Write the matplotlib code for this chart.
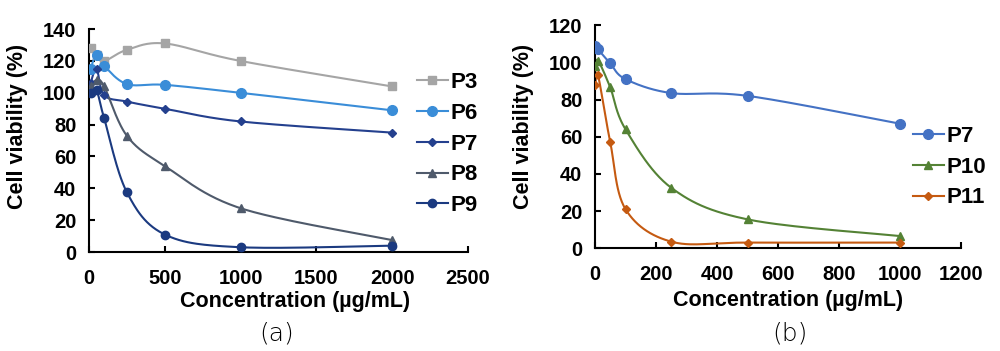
import numpy as np
import matplotlib
matplotlib.use("Agg")
import matplotlib.pyplot as plt

plt.rcParams['font.family'] = ['Liberation Sans', 'DejaVu Sans']

# ---- data ----
conc_a = [10, 50, 100, 250, 500, 1000, 2000]
p3_a = [128, 124, 120, 127, 131, 120, 104]
p6_a = [115, 124, 117, 105.5, 105, 100, 89]
p7_a = [106, 115, 98.5, 94.5, 90, 82, 75]
p8_a = [104, 108, 104, 73, 54, 27.5, 7.5]
p9_a = [100, 101.5, 84, 37.5, 11, 3, 4]

conc_b = [1, 10, 50, 100, 250, 500, 1000]
p7_b = [109, 107, 99.5, 91, 83.5, 82, 67]
p10_b = [98, 101, 86.5, 64, 32.5, 15.5, 6.5]
p11_b = [88, 93, 57, 21, 3.5, 3, 3]

xticks_a = [0, 500, 1000, 1500, 2000, 2500]
yticks_a = [0, 20, 40, 60, 80, 100, 120, 140]
xticks_b = [0, 200, 400, 600, 800, 1000, 1200]
yticks_b = [0, 20, 40, 60, 80, 100, 120]


def smooth(ax, x, y, n=30):
    # Excel-style smoothed line: Catmull-Rom Bezier computed in screen space
    pts = ax.transData.transform(np.column_stack([x, y]))
    p = np.vstack([pts[0], pts, pts[-1]])
    out = []
    t = np.linspace(0, 1, n)[:, None]
    for i in range(1, len(p) - 2):
        p0, p1 = p[i], p[i + 1]
        c1 = p0 + (p[i + 1] - p[i - 1]) / 6
        c2 = p1 - (p[i + 2] - p[i]) / 6
        seg = ((1 - t) ** 3) * p0 + 3 * ((1 - t) ** 2) * t * c1 + 3 * (1 - t) * t ** 2 * c2 + t ** 3 * p1
        out.append(seg)
    out = np.vstack(out)
    return ax.transData.inverted().transform(out)


def style_axes(ax, xt, yt, xmax, ymax):
    ax.set_xlim(0, xmax)
    ax.set_ylim(0, ymax)
    ax.set_xticks(xt)
    ax.set_yticks(yt)
    for s in ['top', 'right']:
        ax.spines[s].set_visible(False)
    for s in ['left', 'bottom']:
        ax.spines[s].set_linewidth(1.5)
    ax.tick_params(direction='in', length=4, width=1.5, labelsize=14.5)
    ax.tick_params(axis='y', pad=9)
    ax.tick_params(axis='x', pad=12)
    for lab in ax.get_xticklabels() + ax.get_yticklabels():
        lab.set_fontweight('bold')


def draw(ax, x, y, color, marker, ms, label):
    sx = smooth(ax, x, y)
    ax.plot(sx[:, 0], sx[:, 1], color=color, lw=1.5, zorder=2)
    ax.plot(x, y, ls='none', marker=marker, ms=ms, color=color, zorder=3)
    # legend proxy
    ax.plot([], [], color=color, lw=1.5, marker=marker, ms=ms, label=label)


fig = plt.figure(figsize=(10, 3.51), dpi=100)
ax1 = fig.add_axes([0.089, 0.282, 0.379, 0.635])
ax2 = fig.add_axes([0.595, 0.293, 0.366, 0.635])

style_axes(ax1, xticks_a, yticks_a, 2500, 140)
style_axes(ax2, xticks_b, yticks_b, 1200, 120)

draw(ax1, conc_a, p3_a, '#A5A5A5', 's', 6, 'P3')
draw(ax1, conc_a, p6_a, '#3A8DD8', 'o', 7, 'P6')
draw(ax1, conc_a, p7_a, '#24408E', 'D', 4, 'P7')
draw(ax1, conc_a, p8_a, '#4F5A6B', '^', 6, 'P8')
draw(ax1, conc_a, p9_a, '#1B3A80', 'o', 6, 'P9')

draw(ax2, conc_b, p7_b, '#4472C4', 'o', 7, 'P7')
draw(ax2, conc_b, p10_b, '#548235', '^', 6, 'P10')
draw(ax2, conc_b, p11_b, '#C55A11', 'D', 4, 'P11')

leg_kw = dict(frameon=False, handlelength=1.4, handletextpad=0.1,
              labelspacing=0.44, borderaxespad=0,
              prop={'weight': 'bold', 'size': 16})
ax1.legend(loc='upper left', bbox_to_anchor=(0.408, 0.82),
           bbox_transform=fig.transFigure, **leg_kw)
ax2.legend(loc='upper left', bbox_to_anchor=(0.904, 0.667),
           bbox_transform=fig.transFigure, **leg_kw)

fig.text(0.018, 0.64, 'Cell viability (%)', rotation=90, ha='center', va='center',
         fontsize=15.5, fontweight='bold')
fig.text(0.523, 0.64, 'Cell viability (%)', rotation=90, ha='center', va='center',
         fontsize=15.5, fontweight='bold')
fig.text(0.295, 0.140, 'Concentration (µg/mL)', ha='center', va='center',
         fontsize=15.5, fontweight='bold')
fig.text(0.788, 0.145, 'Concentration (µg/mL)', ha='center', va='center',
         fontsize=15.5, fontweight='bold')
fig.text(0.277, 0.051, '(a)', ha='center', va='center', fontsize=18,
         family=['DejaVu Sans'], fontweight='light')
fig.text(0.790, 0.051, '(b)', ha='center', va='center', fontsize=18,
         family=['DejaVu Sans'], fontweight='light')

fig.savefig('out.png', dpi=100)
